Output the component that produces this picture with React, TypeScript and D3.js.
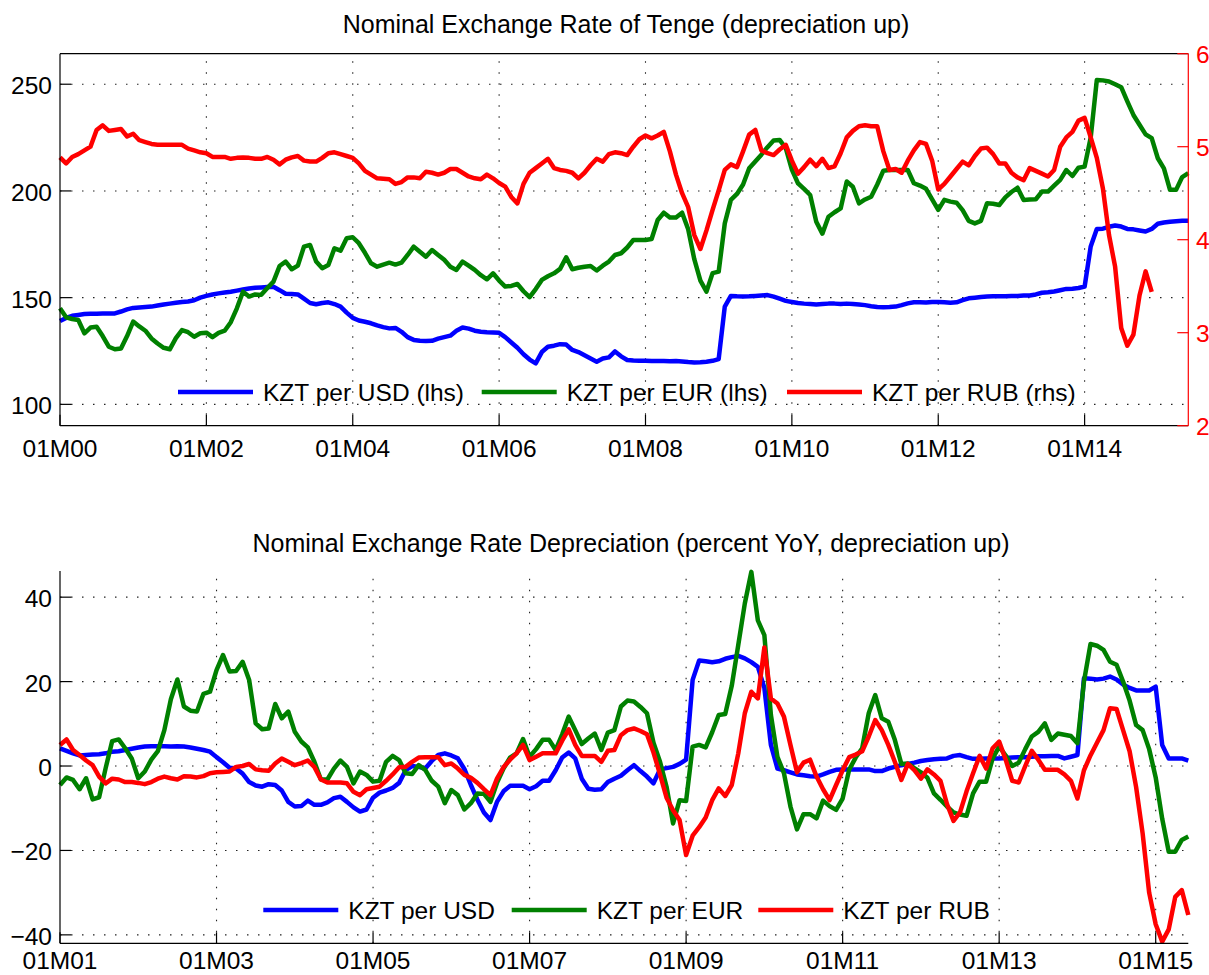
import React, { useEffect, useRef } from 'react';
import * as d3 from 'd3';

// Tenge per unit of foreign currency, monthly from 01M00 (Jan 2000)
const levelUsd = [
  139.1, 140.5, 141.5, 141.9, 142.3, 142.4, 142.5, 142.6, 142.6, 142.6, 143.5, 144.5,
  145.2, 145.4, 145.6, 145.8, 146.3, 146.8, 147.2, 147.6, 148.0, 148.2, 148.8, 150.0,
  150.8, 151.5, 152.0, 152.4, 152.8, 153.3, 153.8, 154.3, 154.6, 154.8, 155.0, 155.1,
  153.5, 151.8, 151.7, 151.5, 149.5, 147.5, 146.9, 147.5, 147.8, 147.0, 145.8, 143.0,
  140.5, 139.3, 138.7, 138.0, 137.0, 136.2, 135.6, 135.8, 134.0, 131.5, 130.2, 129.8,
  129.7, 129.8, 130.8, 131.5, 132.2, 134.5, 136.0, 135.5, 134.5, 134.0, 133.8, 133.7,
  133.5, 131.5, 129.0, 126.5, 123.5, 121.0, 119.2, 124.5, 127.0, 127.5, 128.2, 128.0,
  125.5, 124.5, 123.0, 121.5, 120.0, 121.5, 122.0, 124.8, 122.5, 120.8, 120.5, 120.4,
  120.4, 120.3, 120.3, 120.3, 120.2, 120.3, 120.1, 119.8, 119.6, 119.7, 120.0, 120.4,
  121.2, 145.8, 150.8, 150.6, 150.5, 150.6, 150.8, 151.0, 151.2, 150.5, 149.5, 148.5,
  148.0, 147.5, 147.2, 147.0, 146.8, 147.0, 147.2, 147.2, 147.0, 147.2, 147.0, 146.8,
  146.5, 146.0, 145.6, 145.5, 145.6, 145.8, 146.5, 147.3, 147.8, 147.8, 147.7, 148.0,
  148.0, 147.8, 147.6, 147.8, 148.8, 149.7, 150.0, 150.3, 150.5, 150.6, 150.6, 150.7,
  150.8, 150.8, 151.0, 151.0, 151.5, 152.3, 152.5, 152.9, 153.5, 154.1, 154.2, 154.5,
  155.2, 174.0, 182.2, 182.3, 183.2, 183.8, 183.3, 182.2, 182.0, 181.5, 181.0, 182.2,
  184.6, 185.2, 185.6, 185.8, 186.0, 186.0,
];

const levelEur = [
  145.0, 140.8, 140.0, 139.5, 133.3, 136.0, 136.4, 132.0, 127.0, 125.8, 126.2, 132.0,
  138.8, 136.5, 134.5, 130.9, 128.5, 126.5, 125.8, 131.0, 134.8, 133.8, 131.7, 133.3,
  133.6, 131.5, 133.5, 134.5, 138.5, 145.0, 152.8, 150.5, 151.5, 151.3, 154.5, 157.5,
  164.8, 166.9, 163.3, 165.0, 173.9, 174.7, 166.9, 163.8, 165.3, 173.1, 172.0, 177.8,
  178.3, 175.5, 171.0, 166.1, 164.5, 165.5, 166.4, 165.5, 166.4, 170.0, 173.9, 171.5,
  169.2, 172.3, 170.0, 167.7, 164.5, 163.0, 166.9, 165.0, 163.0, 160.5, 158.6, 161.4,
  158.0, 155.2, 155.5, 156.4, 153.0, 150.2, 154.0, 158.3, 160.0, 161.4, 163.5, 168.9,
  163.3, 164.0, 164.5, 164.8, 162.7, 165.0, 166.9, 170.0, 170.8, 173.5, 177.0, 177.0,
  177.0, 177.5, 186.4, 189.8, 187.5, 187.5, 189.8, 182.0, 168.0, 158.0, 152.8, 161.5,
  162.2, 184.8, 195.8, 198.6, 203.0, 210.6, 213.8, 217.0, 220.5, 223.6, 223.9, 220.0,
  210.0, 203.6, 201.0, 198.1, 185.6, 180.0, 187.9, 190.0, 191.8, 204.4, 202.0, 194.2,
  196.0, 197.3, 203.0, 209.5, 209.8, 209.8, 209.8, 209.8, 203.6, 202.5, 201.0, 196.0,
  191.1, 195.8, 195.0, 194.5, 191.0, 186.0, 184.8, 186.0, 194.2, 194.0, 193.4, 197.0,
  199.5, 201.5, 195.8, 196.0, 196.1, 199.7, 199.7, 202.5, 205.2, 209.8, 207.0, 210.9,
  211.4, 225.0, 252.0, 251.8, 251.3, 250.0, 248.6, 242.0, 235.6, 231.0, 226.5, 224.7,
  215.3, 210.6, 200.5, 200.5, 206.5, 208.3,
];

// right-hand scale, ends Dec 2014
const levelRub = [
  4.885, 4.82, 4.89, 4.92, 4.96, 5.0, 5.18, 5.23, 5.17, 5.18, 5.19, 5.11,
  5.14, 5.07, 5.05, 5.03, 5.02, 5.02, 5.02, 5.02, 5.02, 4.98, 4.96, 4.94,
  4.93, 4.89, 4.89, 4.89, 4.87, 4.88, 4.885, 4.88, 4.87, 4.87, 4.89, 4.86,
  4.81, 4.86, 4.885, 4.9, 4.85, 4.84, 4.84, 4.88, 4.93, 4.94, 4.92, 4.9,
  4.88, 4.82, 4.74, 4.7, 4.66, 4.655, 4.65, 4.6, 4.62, 4.67, 4.67, 4.66,
  4.73, 4.72, 4.7, 4.72, 4.76, 4.76, 4.72, 4.68, 4.66, 4.65, 4.7, 4.66,
  4.61, 4.57, 4.46, 4.39, 4.6, 4.72, 4.77, 4.82, 4.87, 4.77, 4.75, 4.74,
  4.72, 4.66, 4.72, 4.8, 4.87, 4.84, 4.92, 4.94, 4.93, 4.91, 5.0, 5.08,
  5.12, 5.09, 5.12, 5.16, 4.95, 4.7, 4.5, 4.35, 4.05, 3.9, 4.1, 4.32,
  4.53, 4.75, 4.81, 4.78, 4.95, 5.13, 5.18, 4.96, 4.93, 4.91, 4.97, 5.02,
  4.85, 4.71, 4.78, 4.86, 4.79, 4.87, 4.77, 4.79, 4.93, 5.1, 5.17, 5.22,
  5.23, 5.22, 5.22, 4.95, 4.75, 4.76, 4.72, 4.85, 4.96, 5.05, 5.03, 4.85,
  4.54, 4.6, 4.68, 4.76, 4.84, 4.8, 4.9, 4.98, 4.99, 4.92, 4.82, 4.82,
  4.72, 4.67, 4.64, 4.77, 4.74, 4.71, 4.68, 4.75, 5.0, 5.1, 5.16, 5.28,
  5.31, 5.1, 4.88, 4.55, 4.05, 3.71, 3.05, 2.86, 2.98, 3.4, 3.66, 3.44,
];

// percent YoY, monthly from 01M01 (Jan 2001)
const yoyUsd = [
  4.2, 3.6, 3.0, 2.5, 2.6, 2.7, 2.8, 3.0, 3.4, 3.5, 3.8, 4.1,
  4.4, 4.6, 4.7, 4.7, 4.7, 4.6, 4.7, 4.6, 4.4, 4.1, 3.8, 3.4,
  2.1, 0.9, -0.4, -0.6, -1.8, -3.8, -4.6, -4.9, -4.3, -4.5, -5.8, -8.5,
  -9.6, -9.5, -8.2, -9.2, -9.2, -8.6, -7.6, -7.3, -8.5, -9.8, -10.8, -10.3,
  -7.5, -6.3, -5.8, -5.2, -4.0, -1.0, 0.0, -0.2, -0.6, 1.2, 2.6, 3.0,
  2.5, 1.8, -0.7, -4.5, -8.0, -11.0, -12.8, -8.5, -6.0, -4.7, -4.7, -4.7,
  -5.5, -4.8, -3.5, -3.5, -1.0, 2.0, 3.2, 1.8, -3.0, -5.4, -5.6, -5.5,
  -3.8, -3.0, -2.3, -1.0, 0.2, -1.2, -2.5, -4.1, -0.8, -0.5, -0.2, 0.5,
  1.5, 20.4, 25.0, 24.8, 24.6, 24.8, 25.4, 25.8, 26.1, 25.5, 24.6, 23.5,
  18.5, 5.0, -0.6, -1.0, -1.5, -2.0, -2.2, -2.4, -2.5, -2.0, -1.4, -0.9,
  -0.8, -0.8, -0.8, -0.8, -0.8, -1.2, -1.2, -0.6, -0.2, 0.2, 0.5, 0.8,
  1.2, 1.4, 1.6, 1.7, 1.8, 2.4, 2.6, 2.1, 1.7, 1.7, 1.8, 1.8,
  1.8, 1.9, 2.0, 2.1, 2.1, 2.2, 2.3, 2.3, 2.4, 2.4, 1.8, 2.2,
  2.6, 20.8, 20.7, 20.5, 20.7, 21.2, 20.5, 19.3, 18.5, 17.9, 17.9, 17.9,
  18.8, 5.0, 1.8, 1.8, 1.8, 1.3,
];

const yoyEur = [
  -4.5, -2.7, -3.3, -5.5, -2.9, -7.9, -7.4, -0.5, 5.9, 6.3, 4.2, 1.8,
  -2.9, -1.3, 1.5, 3.5, 8.5, 15.8, 20.5, 14.1, 13.1, 12.9, 17.1, 17.6,
  22.7, 26.3, 22.4, 22.5, 24.7, 20.4, 10.1, 8.7, 8.9, 14.7, 11.3, 12.9,
  8.1, 5.8, 4.4, 1.0, -3.2, -3.2, -0.6, 1.3, -0.2, -4.1, -1.3, -2.1,
  -3.7, -3.5, 1.0, 2.4, 1.4, -1.7, -1.9, 0.2, -0.9, -3.5, -4.9, -8.8,
  -5.7, -6.9, -10.3, -8.8, -6.5, -6.6, -8.5, -4.0, -0.6, 2.0, 3.0, 6.4,
  2.2, 4.0, 6.2, 6.2, 3.8, 7.5, 11.7, 8.5, 5.2, 6.5, 7.7, 3.8,
  7.9, 8.5, 14.1, 15.5, 15.3, 14.0, 12.5, 5.5, 1.0, -4.9, -13.6, -8.1,
  -8.3, 4.6, 5.0, 4.4, 8.0, 12.1, 12.3, 19.0, 28.7, 38.5, 46.0, 34.5,
  31.0, 12.1, 2.2, -1.7, -9.6, -15.0, -11.4, -11.4, -12.4, -8.2, -9.5, -10.4,
  -7.7, -0.9, 2.0, 4.2, 12.5, 16.8, 11.3, 10.5, 6.2, 0.5, 0.6, -0.5,
  -1.5, -2.8, -6.5, -8.0, -9.6, -11.0, -11.5, -11.8, -6.5, -3.7, -3.7, 1.8,
  4.6, 2.5, 0.0, 0.8, 4.0, 7.0, 8.1, 10.1, 6.2, 7.7, 7.4, 7.1,
  5.4, 20.0, 28.9, 28.5, 27.5, 24.7, 24.0, 20.0, 15.5, 9.7, 8.5, 4.0,
  -2.7, -12.5, -20.3, -20.3, -17.5, -16.7,
];

const yoyRub = [
  5.0, 6.3, 3.8, 2.6, 1.3, 0.2, -2.5, -4.1, -3.0, -3.2, -3.8, -3.8,
  -4.0, -4.3, -3.8, -3.0, -2.5, -2.9, -3.2, -2.4, -2.5, -2.7, -2.4, -1.7,
  -1.5, -1.4, -1.3, -0.2, 0.0, 0.5, -0.8, -1.0, -1.1, 0.6, 1.8, 1.0,
  0.2, 0.7, 1.3, -0.2, -3.2, -3.9, -3.9, -3.9, -4.1, -6.1, -6.9, -5.5,
  -5.2, -4.9, -3.5, -2.0, -0.3, -0.2, 1.0, 2.0, 2.1, 2.1, 2.1, 0.2,
  0.6, -0.6, -2.1, -2.8, -4.0, -5.5, -6.9, -3.0, -0.3, 1.5, 3.0, 5.0,
  1.4, 2.2, 3.0, 3.0, 3.0, 6.0, 8.7, 5.0, 2.4, 2.4, 2.4, 1.0,
  3.6, 3.8, 7.3, 8.5, 8.9, 8.3, 7.5, 3.2, -2.0, -7.5, -10.5, -12.8,
  -21.1, -16.5, -14.5, -12.2, -8.1, -5.3, -7.1, -4.5, 3.0, 12.5, 17.6, 16.0,
  28.1, 16.0, 14.8, 11.7, 5.0, -1.5, 0.8, 1.5, -2.5, -5.5, -8.1, -4.5,
  -1.0, 2.1, 2.7, 3.5, 7.0, 10.9, 8.5, 5.0, 1.0, -3.3, 0.5, -1.0,
  -3.0, -0.8, -2.0, -3.5, -9.0, -13.0, -11.0, -6.0, -1.7, 2.4, -0.6, 4.2,
  5.8, 1.5, -3.5, -3.9, 0.0, 3.6, 1.5, -0.9, -0.9, -0.9, -2.0, -3.5,
  -7.7, -1.0, 2.5, 5.5, 8.5, 13.7, 13.5, 8.5, 3.5, -5.0, -16.0, -30.0,
  -37.5, -41.6, -38.7, -31.0, -29.4, -35.3,
];

const levelTickLabels = ['01M00', '01M02', '01M04', '01M06', '01M08', '01M10', '01M12', '01M14'];
const yoyTickLabels = ['01M01', '01M03', '01M05', '01M07', '01M09', '01M11', '01M13', '01M15'];
const levelLeftTicks = [100, 150, 200, 250];
const levelRightTicks = [2, 3, 4, 5, 6];
const yoyTicks = [-40, -20, 0, 20, 40];
const levelLegend = ['KZT per USD (lhs)', 'KZT per EUR (lhs)', 'KZT per RUB (rhs)'];
const yoyLegend = ['KZT per USD', 'KZT per EUR', 'KZT per RUB'];

const FONT = '"Liberation Sans", Arial, Helvetica, sans-serif';
const COLORS = ['#0000ff', '#008000', '#ff0000'];
const X0 = 60;
const X1 = 1188.3;
const TICK = 11;

const fmt = (v: number) => (v < 0 ? '\u2212' + Math.abs(v) : String(v));

function drawPanel(svg: any, cfg: any) {
  const { top, bottom, months, yDomain, yTicks, tickLabels, title, titleY, titleX, legend, legendX, legendY } = cfg;
  const g = svg.append('g');
  const x = d3.scaleLinear().domain([0, months - 1]).range([X0, X1]);
  const y = d3.scaleLinear().domain(yDomain).range([bottom, top]);

  // grid
  const grid = g.append('g').attr('stroke', '#222').attr('stroke-width', 1.1).attr('stroke-dasharray', '1.5 9.5');
  tickLabels.forEach((_: string, i: number) => {
    if (i === 0) return;
    grid.append('line').attr('x1', x(i * 24)).attr('x2', x(i * 24)).attr('y1', bottom).attr('y2', top);
  });
  yTicks.forEach((t: number) => {
    grid.append('line').attr('x1', X0).attr('x2', X1).attr('y1', y(t)).attr('y2', y(t));
  });

  // series
  cfg.series.forEach((s: any, k: number) => {
    const ys = s.scale || y;
    const line = d3.line<number>().x((_, i) => x(i)).y(d => ys(d));
    g.append('path')
      .datum(s.values)
      .attr('fill', 'none')
      .attr('stroke', COLORS[k])
      .attr('stroke-width', 4.5)
      .attr('stroke-linejoin', 'round')
      .attr('d', line);
  });

  // axes
  const ax = g.append('g').attr('stroke', '#000').attr('stroke-width', 1.2);
  ax.append('line').attr('x1', X0).attr('x2', X0).attr('y1', top).attr('y2', bottom);
  ax.append('line').attr('x1', X0).attr('x2', X1).attr('y1', bottom).attr('y2', bottom);
  if (cfg.box) ax.append('line').attr('x1', X0).attr('x2', X1).attr('y1', top).attr('y2', top);
  tickLabels.forEach((lab: string, i: number) => {
    const px = x(i * 24);
    ax.append('line').attr('x1', px).attr('x2', px).attr('y1', bottom).attr('y2', bottom - TICK);
    // keep the lower row of labels fully inside the page
    g.append('text').attr('x', px).attr('y', Math.min(bottom + 31, 969)).attr('text-anchor', 'middle')
      .attr('font-family', FONT).attr('font-size', 24.5).attr('fill', '#000').text(lab);
  });
  yTicks.forEach((t: number) => {
    ax.append('line').attr('x1', X0).attr('x2', X0 + TICK).attr('y1', y(t)).attr('y2', y(t));
    g.append('text').attr('x', 52).attr('y', y(t) + 10).attr('text-anchor', 'end')
      .attr('font-family', FONT).attr('font-size', 24.5).attr('fill', '#000').text(fmt(t));
  });

  if (cfg.right) {
    const r = cfg.right;
    const ra = g.append('g').attr('stroke', COLORS[2]).attr('stroke-width', 1.2);
    ra.append('line').attr('x1', X1).attr('x2', X1).attr('y1', top).attr('y2', bottom);
    r.ticks.forEach((t: number) => {
      ra.append('line').attr('x1', X1 - TICK).attr('x2', X1).attr('y1', r.scale(t)).attr('y2', r.scale(t));
      g.append('text').attr('x', 1196).attr('y', r.scale(t) + 9.6)
        .attr('font-family', FONT).attr('font-size', 24.5).attr('fill', COLORS[2]).text(t);
    });
  }

  // title
  g.append('text').attr('x', titleX).attr('y', titleY).attr('text-anchor', 'middle')
    .attr('font-family', FONT).attr('font-size', 25).attr('fill', '#000').text(title);

  // legend
  legend.forEach((lab: string, k: number) => {
    const lx = legendX[k];
    g.append('line').attr('x1', lx).attr('x2', lx + 75).attr('y1', legendY).attr('y2', legendY)
      .attr('stroke', COLORS[k]).attr('stroke-width', 4.5);
    g.append('text').attr('x', lx + 85).attr('y', legendY + 9.3)
      .attr('font-family', FONT).attr('font-size', 24.5).attr('fill', '#000').text(lab);
  });
}

const App = () => {
  const svgRef = useRef(null);

  useEffect(() => {
    const svg = d3.select(svgRef.current);
    svg.selectAll('*').remove();

    // top panel: levels, RUB on its own right-hand scale
    const topY = 53.7, botY = 425.7;
    const rightScale = d3.scaleLinear().domain([2, 6]).range([botY, topY]);
    drawPanel(svg, {
      top: topY, bottom: botY, months: levelUsd.length,
      yDomain: [90, 264.3], yTicks: levelLeftTicks, tickLabels: levelTickLabels,
      title: 'Nominal Exchange Rate of Tenge (depreciation up)', titleX: 626, titleY: 33.3,
      series: [{ values: levelUsd }, { values: levelEur }, { values: levelRub, scale: rightScale }],
      right: { scale: rightScale, ticks: levelRightTicks },
      box: true,
      legend: levelLegend, legendX: [178, 481.7, 787], legendY: 392,
    });

    // bottom panel: year-on-year change
    drawPanel(svg, {
      top: 571, bottom: 943.3, months: yoyUsd.length,
      yDomain: [-42, 46.2], yTicks: yoyTicks, tickLabels: yoyTickLabels,
      title: 'Nominal Exchange Rate Depreciation (percent YoY, depreciation up)', titleX: 631, titleY: 552.3,
      series: [{ values: yoyUsd }, { values: yoyEur }, { values: yoyRub }],
      box: false,
      legend: yoyLegend, legendX: [263.3, 511.7, 758.3], legendY: 910,
    });
  }, []);

  return (
    <svg ref={svgRef} width={1209} height={975}
      style={{ position: 'absolute', left: 0, top: 0, background: '#fff' }} />
  );
};

export default App;
